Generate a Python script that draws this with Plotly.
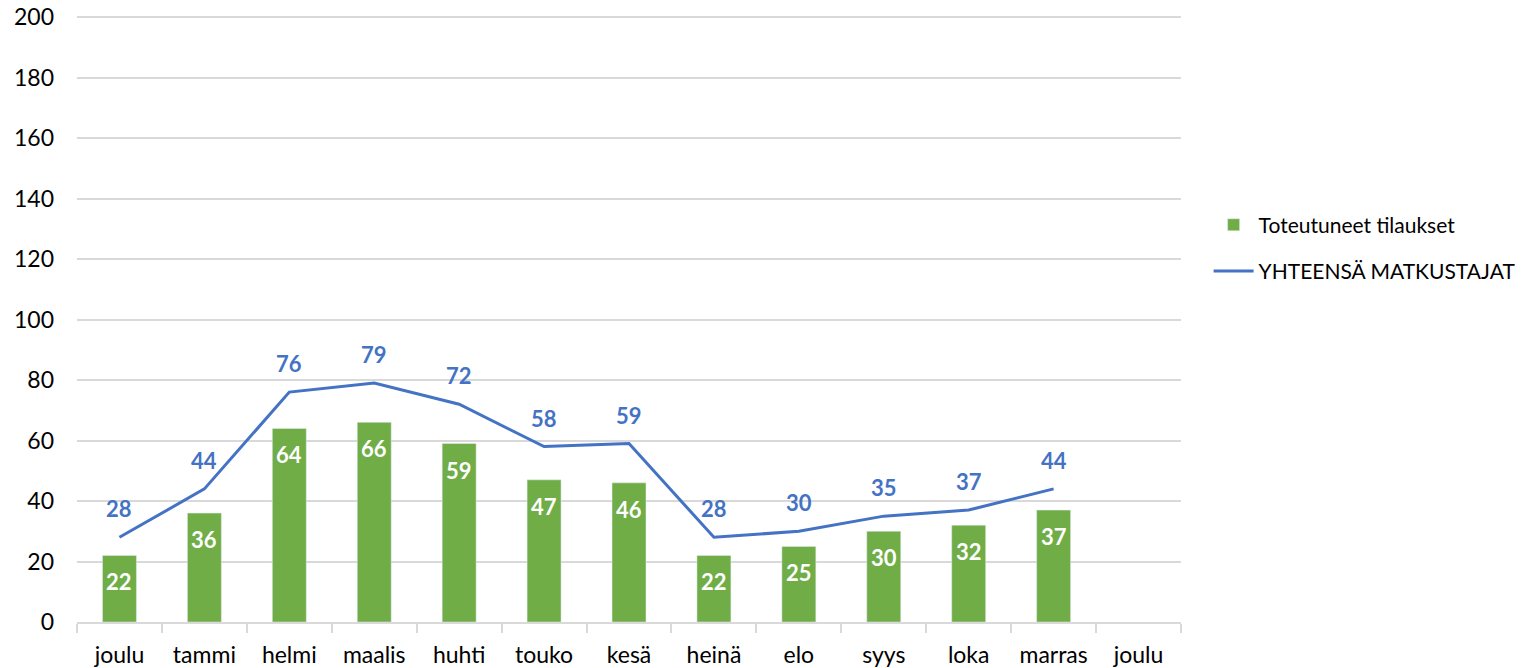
import plotly.graph_objects as go

months = ["joulu", "tammi", "helmi", "maalis", "huhti", "touko", "kesä",
          "heinä", "elo", "syys", "loka", "marras", "joulu"]
orders = [22, 36, 64, 66, 59, 47, 46, 22, 25, 30, 32, 37]
passengers = [28, 44, 76, 79, 72, 58, 59, 28, 30, 35, 37, 44]
y_ticks = list(range(0, 201, 20))

FONT = "Lato, 'Open Sans', sans-serif"
x_pos = list(range(len(months)))

fig = go.Figure()
fig.add_trace(go.Bar(
    x=x_pos[:len(orders)], y=orders, name="Toteutuneet tilaukset",
    marker_color="#70AD47", width=0.4, legendgroup="a",
))
fig.add_trace(go.Scatter(
    x=x_pos[:len(passengers)], y=passengers, name="YHTEENSÄ MATKUSTAJAT",
    mode="lines", line=dict(color="#4472C4", width=3), legendgroup="b",
))

annotations = []
for xi, v in zip(x_pos, orders):
    annotations.append(dict(
        x=xi, y=v, text=str(v), showarrow=False, xanchor="center",
        yanchor="top", yshift=-11,
        font=dict(color="white", size=22, family=FONT, weight="bold")))
for xi, v in zip(x_pos, passengers):
    annotations.append(dict(
        x=xi, y=v, text=str(v), showarrow=False, xanchor="center",
        yanchor="bottom", yshift=13,
        font=dict(color="#4472C4", size=22, family=FONT, weight="bold")))

fig.update_layout(
    width=1539, height=668,
    margin=dict(l=77, r=358, t=14, b=46, autoexpand=False),
    plot_bgcolor="white", paper_bgcolor="white",
    font=dict(family=FONT, size=23, color="#000000"),
    showlegend=True,
    legend=dict(x=1.025, y=0.615, xanchor="left", yanchor="middle",
                font=dict(size=21, color="#000000"), itemwidth=40,
                traceorder="grouped", tracegroupgap=16),
    annotations=annotations,
)
fig.update_xaxes(
    range=[-0.5, len(months) - 0.5], automargin=False,
    tickvals=x_pos, ticktext=months, ticks="",
    showgrid=False, showline=True, linecolor="#d9d9d9", linewidth=1.5,
    zeroline=False, ticklabelstandoff=12,
    minor=dict(tickvals=[i - 0.5 for i in range(len(months) + 1)],
               ticks="outside", ticklen=9, tickcolor="#d9d9d9", tickwidth=1.5,
               showgrid=False),
    tickfont=dict(size=23, color="#000000"),
)
fig.update_yaxes(
    range=[0, 201], tickvals=y_ticks, showgrid=True, gridcolor="#d9d9d9",
    gridwidth=1.5, zeroline=False, showline=False, ticks="", automargin=False,
    tickfont=dict(size=23, color="#000000"), ticklabelstandoff=22,
    ticklabeloverflow="allow",
)

fig.write_html(
    "out.html",
    config={"displayModeBar": False},
    post_script="document.body.style.margin='0';document.body.style.overflow='hidden';",
)
